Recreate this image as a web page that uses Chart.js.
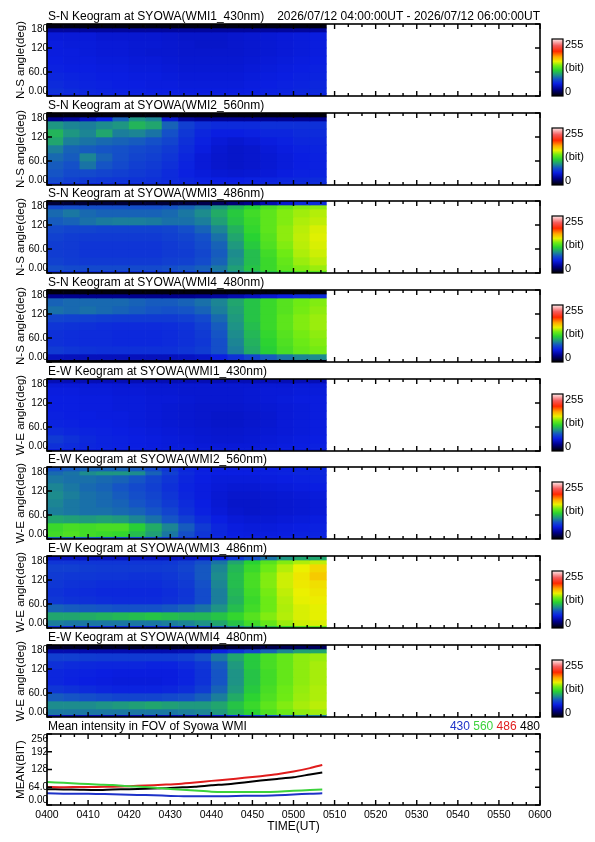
<!DOCTYPE html>
<html><head><meta charset="utf-8">
<script src="https://cdn.jsdelivr.net/npm/chart.js@4.4.1/dist/chart.umd.min.js"></script>
<style>
html,body{margin:0;padding:0;background:#fff;}
#wrap{position:relative;width:595px;height:842px;overflow:hidden;background:#fff;}
canvas{position:absolute;left:0;}
</style></head><body><div id="wrap"></div>
<script>
// ---------------- DATA ----------------
// keogram time bins: centre of each 4-minute bin, minutes after 04:00 UT
const timeBins = [2,6,10,14,18,22,26,30,34,38,42,46,50,54,58,62,66];
// angle band edges (deg), rows listed top (180) -> bottom (0)
const angleEdges = [180,170,160,140,120,100,80,60,40,20,6,0];
const angleTickVals = [0,60,120,180];
const angleTickLabels = ['0.00','60.0','120','180'];

// intensities (bit, 0-255), rows top->bottom, columns = timeBins
const sn430 = [
[4,4,4,4,4,4,4,4,4,4,4,4,4,4,4,4,4],
[35,35,35,35,35,35,35,35,35,35,35,35,35,35,35,35,35],
[52,52,52,50,50,50,50,49,48,48,48,49,50,51,52,53,54],
[54,53,53,52,52,51,51,50,49,48,48,49,50,51,52,53,54],
[54,54,53,52,52,51,50,50,49,49,49,49,50,51,52,53,54],
[55,54,54,53,53,52,52,51,50,50,50,50,51,52,53,54,55],
[56,55,55,54,54,53,53,52,51,51,51,51,52,53,54,55,56],
[58,57,56,55,55,54,54,53,52,52,52,52,53,54,55,56,57],
[60,58,57,56,55,55,54,54,53,53,53,53,54,55,56,57,58],
[62,60,58,57,56,56,55,55,54,54,54,54,55,56,57,58,59],
[56,56,56,56,56,56,56,56,56,56,56,56,56,56,56,56,56]];
const sn560 = [
[3,3,3,3,3,3,3,3,3,3,3,3,3,3,3,3,3],
[30,35,45,55,80,95,90,50,35,32,32,32,32,32,32,32,32],
[95,90,88,92,95,105,100,80,68,62,60,60,60,62,62,62,62],
[105,95,90,100,88,90,85,75,65,58,55,55,56,58,58,60,60],
[100,88,85,82,80,78,75,70,62,56,52,50,52,54,56,58,58],
[88,80,78,76,75,72,70,66,60,54,50,48,49,52,54,56,57],
[82,78,90,80,74,70,68,64,58,52,49,48,49,51,53,55,56],
[78,75,85,76,72,68,66,62,57,52,49,48,49,51,53,55,56],
[76,72,72,70,68,66,64,60,56,53,51,50,51,52,54,56,57],
[72,68,66,65,64,63,62,60,58,56,55,55,56,57,58,59,60],
[62,60,58,58,58,58,58,57,57,56,56,56,57,58,58,59,60]];
const sn486 = [
[12,12,12,12,12,12,12,12,14,16,20,25,30,40,50,60,60],
[72,74,74,74,74,74,74,76,80,86,95,105,115,125,132,138,140],
[82,86,82,80,80,80,80,82,86,92,102,112,122,130,138,143,146],
[78,80,84,87,88,88,87,84,84,88,98,110,120,130,138,145,148],
[72,70,70,69,69,69,69,70,74,80,90,104,118,130,140,147,152],
[69,67,66,66,66,66,66,68,70,75,84,100,115,128,140,148,153],
[67,66,64,64,64,64,64,66,68,73,80,96,112,126,138,147,152],
[67,66,64,64,64,64,64,66,67,71,78,92,108,122,135,145,150],
[69,67,66,66,66,66,66,68,69,73,80,94,108,120,132,142,147],
[74,72,72,72,72,72,72,74,76,79,86,98,110,120,130,138,142],
[62,62,62,62,62,62,62,64,66,70,80,90,100,110,118,125,128]];
const sn480 = [
[3,3,3,3,3,3,3,3,3,3,3,3,3,3,3,3,3],
[30,30,30,30,30,30,30,30,30,32,35,40,45,50,55,60,60],
[80,82,82,82,82,80,78,78,80,84,90,100,110,120,128,135,138],
[84,82,84,82,80,78,76,75,76,80,88,98,110,120,128,136,140],
[70,69,68,67,66,66,66,66,68,72,82,96,110,120,130,138,142],
[64,63,62,61,60,60,60,61,63,68,78,94,108,120,130,138,142],
[62,61,60,60,59,59,59,60,62,66,76,92,106,118,128,136,140],
[62,61,60,60,59,59,59,60,62,65,74,90,104,116,126,134,138],
[66,64,63,62,62,62,62,62,64,67,74,88,102,114,124,132,136],
[45,44,44,44,44,44,44,44,46,48,55,62,70,78,85,90,92],
[3,3,3,3,3,3,3,3,3,3,3,3,3,3,3,3,3]];
const ew430 = [
[42,42,42,42,42,42,42,42,42,42,42,42,42,42,42,42,42],
[52,52,52,52,51,51,50,50,50,50,50,50,50,51,51,52,52],
[54,54,53,53,52,52,51,51,50,50,50,50,51,52,52,53,53],
[55,55,54,54,53,53,52,52,51,50,50,50,51,52,53,54,54],
[55,55,54,54,53,53,52,51,50,49,49,49,50,51,52,53,54],
[56,55,55,54,54,53,52,51,50,49,48,48,49,50,52,53,54],
[57,56,55,55,54,53,52,51,50,49,48,48,49,50,52,53,54],
[60,58,57,56,55,54,53,52,51,50,49,49,50,51,52,53,54],
[66,62,59,57,56,55,54,53,52,51,50,50,51,52,53,54,55],
[62,60,58,57,56,55,54,53,53,52,52,52,52,53,54,55,56],
[52,52,52,52,52,52,52,52,52,52,52,52,52,52,52,52,52]];
const ew560 = [
[75,78,80,80,80,78,72,64,58,55,54,54,54,55,56,57,58],
[82,85,92,95,95,92,80,68,60,56,55,55,55,56,57,58,58],
[86,84,84,82,80,76,70,64,58,55,53,53,53,54,55,56,57],
[90,86,82,80,76,72,68,62,57,54,52,51,51,52,53,54,55],
[92,88,84,82,78,74,70,64,58,54,51,49,49,50,51,52,53],
[90,86,84,82,80,76,72,66,60,55,51,48,48,49,50,51,52],
[88,86,84,84,82,80,76,70,62,56,52,49,48,49,50,51,52],
[100,98,96,98,96,90,84,76,68,60,55,52,51,51,52,53,54],
[120,124,122,124,124,114,102,90,78,66,58,54,53,53,54,55,56],
[122,126,122,120,118,108,98,86,74,64,58,55,54,54,55,56,57],
[80,80,78,76,74,72,70,66,62,58,56,55,55,55,55,56,56]];
const ew486 = [
[45,45,45,45,45,45,45,45,46,48,55,65,75,85,95,100,100],
[64,64,64,64,64,64,64,65,68,74,85,100,115,128,138,145,148],
[68,68,67,66,66,66,66,67,70,77,90,106,120,134,146,155,162],
[66,65,65,64,64,63,63,65,68,77,92,108,124,138,150,158,166],
[65,63,62,61,61,61,61,63,66,75,90,108,124,138,150,157,160],
[63,61,60,59,59,59,59,61,64,73,88,106,122,136,148,155,158],
[65,63,62,61,60,60,60,62,65,73,88,104,120,134,146,154,156],
[80,78,77,76,75,75,75,77,80,85,94,108,122,134,145,152,154],
[100,100,102,104,106,108,110,108,106,106,110,118,128,138,146,152,154],
[88,86,86,86,86,86,86,88,90,94,100,110,122,132,142,150,152],
[62,60,60,60,60,60,60,62,64,70,78,88,98,108,118,126,130]];
const ew480 = [
[8,8,8,8,8,8,8,8,8,8,10,12,14,16,18,20,20],
[40,40,40,40,40,40,40,40,42,46,55,62,70,80,90,98,100],
[68,68,67,66,66,66,66,66,68,74,86,100,112,124,132,140,142],
[62,60,59,58,58,58,57,57,60,65,78,96,112,124,132,140,144],
[58,57,56,55,54,54,54,54,57,63,76,94,110,122,132,140,144],
[58,56,55,54,53,53,53,54,57,63,76,94,110,122,132,140,144],
[64,62,60,58,57,57,57,58,61,67,80,96,112,124,134,141,145],
[78,76,74,72,70,70,70,72,74,79,88,102,116,126,135,142,145],
[92,92,92,94,96,98,100,98,96,96,100,110,120,130,138,144,147],
[86,86,86,86,86,86,86,86,88,90,96,106,116,126,134,140,143],
[40,40,40,40,40,40,40,40,42,44,50,58,66,74,80,86,88]];

// mean intensity in FOV, minutes after 04:00 UT
const meanTimes = [0,4,8,12,16,20,24,28,32,36,40,44,48,52,56,60,64,67];
const mean430 = [42,41,41,40,39,37,36,34,32,32,32,32,33,33,35,38,41,42];
const mean560 = [83,80,77,74,72,68,65,60,56,52,48,47,47,47,48,51,54,56];
const mean486 = [65,64,65,65,66,68,70,73,76,81,87,92,98,104,111,121,133,144];
const mean480 = [57,56,55,54,56,57,59,60,63,66,71,75,81,88,94,100,110,117];
const meanTickVals = [0,64,128,192,256];
const meanTickLabels = ['0.00','64.0','128','192','256'];
const timeTickVals = [0,10,20,30,40,50,60,70,80,90,100,110,120];
const timeTickLabels = ['0400','0410','0420','0430','0440','0450','0500','0510','0520','0530','0540','0550','0600'];

const panelTitles = ['S-N Keogram at SYOWA(WMI1_430nm)','S-N Keogram at SYOWA(WMI2_560nm)','S-N Keogram at SYOWA(WMI3_486nm)','S-N Keogram at SYOWA(WMI4_480nm)','E-W Keogram at SYOWA(WMI1_430nm)','E-W Keogram at SYOWA(WMI2_560nm)','E-W Keogram at SYOWA(WMI3_486nm)','E-W Keogram at SYOWA(WMI4_480nm)'];
const panelYTitles = ['N-S angle(deg)','N-S angle(deg)','N-S angle(deg)','N-S angle(deg)','W-E angle(deg)','W-E angle(deg)','W-E angle(deg)','W-E angle(deg)'];
const panelValues = [sn430,sn560,sn486,sn480,ew430,ew560,ew486,ew480];
const headerText = '2026/07/12 04:00:00UT - 2026/07/12 06:00:00UT';
const meanTitle = 'Mean intensity in FOV of Syowa WMI';
const legendNames = ['430','560','486','480'];

// ---------------- STYLE ----------------
const cmapStops = [[0,0,0,0],[30,0,0,140],[55,10,30,225],[75,20,80,200],[95,30,150,130],[115,40,210,50],[135,110,235,20],[155,235,240,0],[175,255,170,0],[200,255,40,0],[225,245,90,90],[255,255,235,235]];
function cmap(v){
  v=Math.max(0,Math.min(255,v));
  for(let i=1;i<cmapStops.length;i++){
    const a=cmapStops[i-1],b=cmapStops[i];
    if(v<=b[0]){const t=(v-a[0])/(b[0]-a[0]);
      return 'rgb('+Math.round(a[1]+t*(b[1]-a[1]))+','+Math.round(a[2]+t*(b[2]-a[2]))+','+Math.round(a[3]+t*(b[3]-a[3]))+')';}
  }
  return 'rgb(255,235,235)';
}
const lineColors = ['#1e32c8','#3cd23c','#e01c1c','#000000'];
const FONT = '"Liberation Sans", Arial, sans-serif';
const panelTops = [24,113,201,290,379,467,556,645];
const meanTop = 734;

const framePlugin = {
  id:'frame',
  afterDatasetsDraw(chart, args, o){
    const ctx=chart.ctx, ca=chart.chartArea, xs=chart.scales.x, ys=chart.scales.y;
    const left=ca.left,right=ca.right,top=ca.top,bottom=ca.bottom;
    ctx.save();
    ctx.strokeStyle='#000'; ctx.lineWidth=1.4;
    ctx.beginPath();
    for(let k=0;k<=36;k++){
      const px=xs.getPixelForValue(k*10/3);
      const len=(k%3===0)?5:3;
      ctx.moveTo(px,top); ctx.lineTo(px,top+len);
      ctx.moveTo(px,bottom); ctx.lineTo(px,bottom-len);
    }
    o.yTicks.forEach(v=>{const py=ys.getPixelForValue(v);
      ctx.moveTo(left,py); ctx.lineTo(left+5,py);
      ctx.moveTo(right,py); ctx.lineTo(right-5,py);});
    ctx.stroke();
    ctx.lineWidth=1.6; ctx.strokeRect(left,top,right-left,bottom-top);
    ctx.fillStyle='#000';
    ctx.font='10px '+FONT; ctx.textAlign='right'; ctx.textBaseline='middle';
    o.yTicks.forEach((v,i)=>{let py=ys.getPixelForValue(v);
      py=Math.max(top+5,Math.min(bottom-5,py));
      ctx.fillText(o.yLabels[i],left+1,py);});
    ctx.font='12px '+FONT; ctx.textAlign='left'; ctx.textBaseline='alphabetic';
    ctx.fillText(o.title,left+1,top-4);
    if(o.header){ctx.textAlign='right'; ctx.fillText(o.header,right,top-4);}
    ctx.save(); ctx.translate(21,(top+bottom)/2); ctx.rotate(-Math.PI/2);
    ctx.font='11.5px '+FONT; ctx.textAlign='center'; ctx.textBaseline='middle';
    ctx.fillText(o.yTitle,0,0); ctx.restore();
    if(o.colorbar){
      const x0=right+12,w=11,y0=top+15,y1=bottom;
      const g=ctx.createLinearGradient(0,y1,0,y0);
      for(let s=0;s<=255;s+=5) g.addColorStop(s/255,cmap(s));
      ctx.fillStyle=g; ctx.fillRect(x0,y0,w,y1-y0);
      ctx.lineWidth=1.2; ctx.strokeStyle='#000'; ctx.strokeRect(x0,y0,w,y1-y0);
      ctx.fillStyle='#000'; ctx.font='11px '+FONT; ctx.textAlign='left'; ctx.textBaseline='middle';
      ctx.fillText('255',x0+13,top+21);
      ctx.fillText('(bit)',x0+13,top+44);
      ctx.fillText('0',x0+13,top+68);
    }
    if(o.timeLabels){
      ctx.font='10.5px '+FONT; ctx.textAlign='center'; ctx.textBaseline='middle';
      o.timeVals.forEach((v,i)=>ctx.fillText(o.timeLabels[i],xs.getPixelForValue(v),bottom+10));
      ctx.font='12px '+FONT;
      ctx.fillText('TIME(UT)',(left+right)/2,bottom+22);
    }
    if(o.legend){
      ctx.font='12px '+FONT; ctx.textAlign='left'; ctx.textBaseline='alphabetic';
      const sp=ctx.measureText(' ').width;
      let total=0; o.legend.forEach((t,i)=>{total+=ctx.measureText(t).width+(i?sp:0);});
      let x=right-total;
      o.legend.forEach((t,i)=>{ctx.fillStyle=lineColors[i]; ctx.fillText(t,x,top-4); x+=ctx.measureText(t).width+sp;});
    }
    ctx.restore();
  }
};

const wrap=document.getElementById('wrap');
function addCanvas(top,h){const c=document.createElement('canvas');c.width=595;c.height=h;c.style.top=top+'px';c.style.width='595px';c.style.height=h+'px';wrap.appendChild(c);return c;}

panelValues.forEach((vals,p)=>{
  const T=panelTops[p];
  const cv=addCanvas(T-24,102);
  const datasets=vals.map((row,r)=>({
    data:timeBins.map(t=>({x:t,y:[angleEdges[r+1],angleEdges[r]]})),
    backgroundColor:row.map(v=>cmap(v)),
    borderWidth:0,grouped:false,barPercentage:1,categoryPercentage:1
  }));
  new Chart(cv,{type:'bar',data:{datasets},
    options:{responsive:false,animation:false,
      layout:{padding:{left:47,right:55,top:24,bottom:6}},
      plugins:{legend:{display:false},tooltip:{enabled:false},
        frame:{title:panelTitles[p],yTitle:panelYTitles[p],yTicks:angleTickVals,yLabels:angleTickLabels,colorbar:true,header:p===0?headerText:null}},
      scales:{x:{type:'linear',min:0,max:120,offset:false,display:false},
              y:{type:'linear',min:0,max:180,display:false}}},
    plugins:[framePlugin]});
});

(function(){
  const cv=addCanvas(meanTop-24,132);
  const series=[mean430,mean560,mean486,mean480];
  const datasets=series.map((s,i)=>({
    data:meanTimes.map((t,j)=>({x:t,y:s[j]})),
    borderColor:lineColors[i],borderWidth:2,pointRadius:0,fill:false,tension:0.2
  }));
  new Chart(cv,{type:'line',data:{datasets},
    options:{responsive:false,animation:false,
      layout:{padding:{left:47,right:55,top:24,bottom:37}},
      plugins:{legend:{display:false},tooltip:{enabled:false},
        frame:{title:meanTitle,yTitle:'MEAN(BIT)',yTicks:meanTickVals,yLabels:meanTickLabels,colorbar:false,
               timeLabels:timeTickLabels,timeVals:timeTickVals,legend:legendNames}},
      scales:{x:{type:'linear',min:0,max:120,display:false},
              y:{type:'linear',min:0,max:256,display:false}}},
    plugins:[framePlugin]});
})();
</script></body></html>
